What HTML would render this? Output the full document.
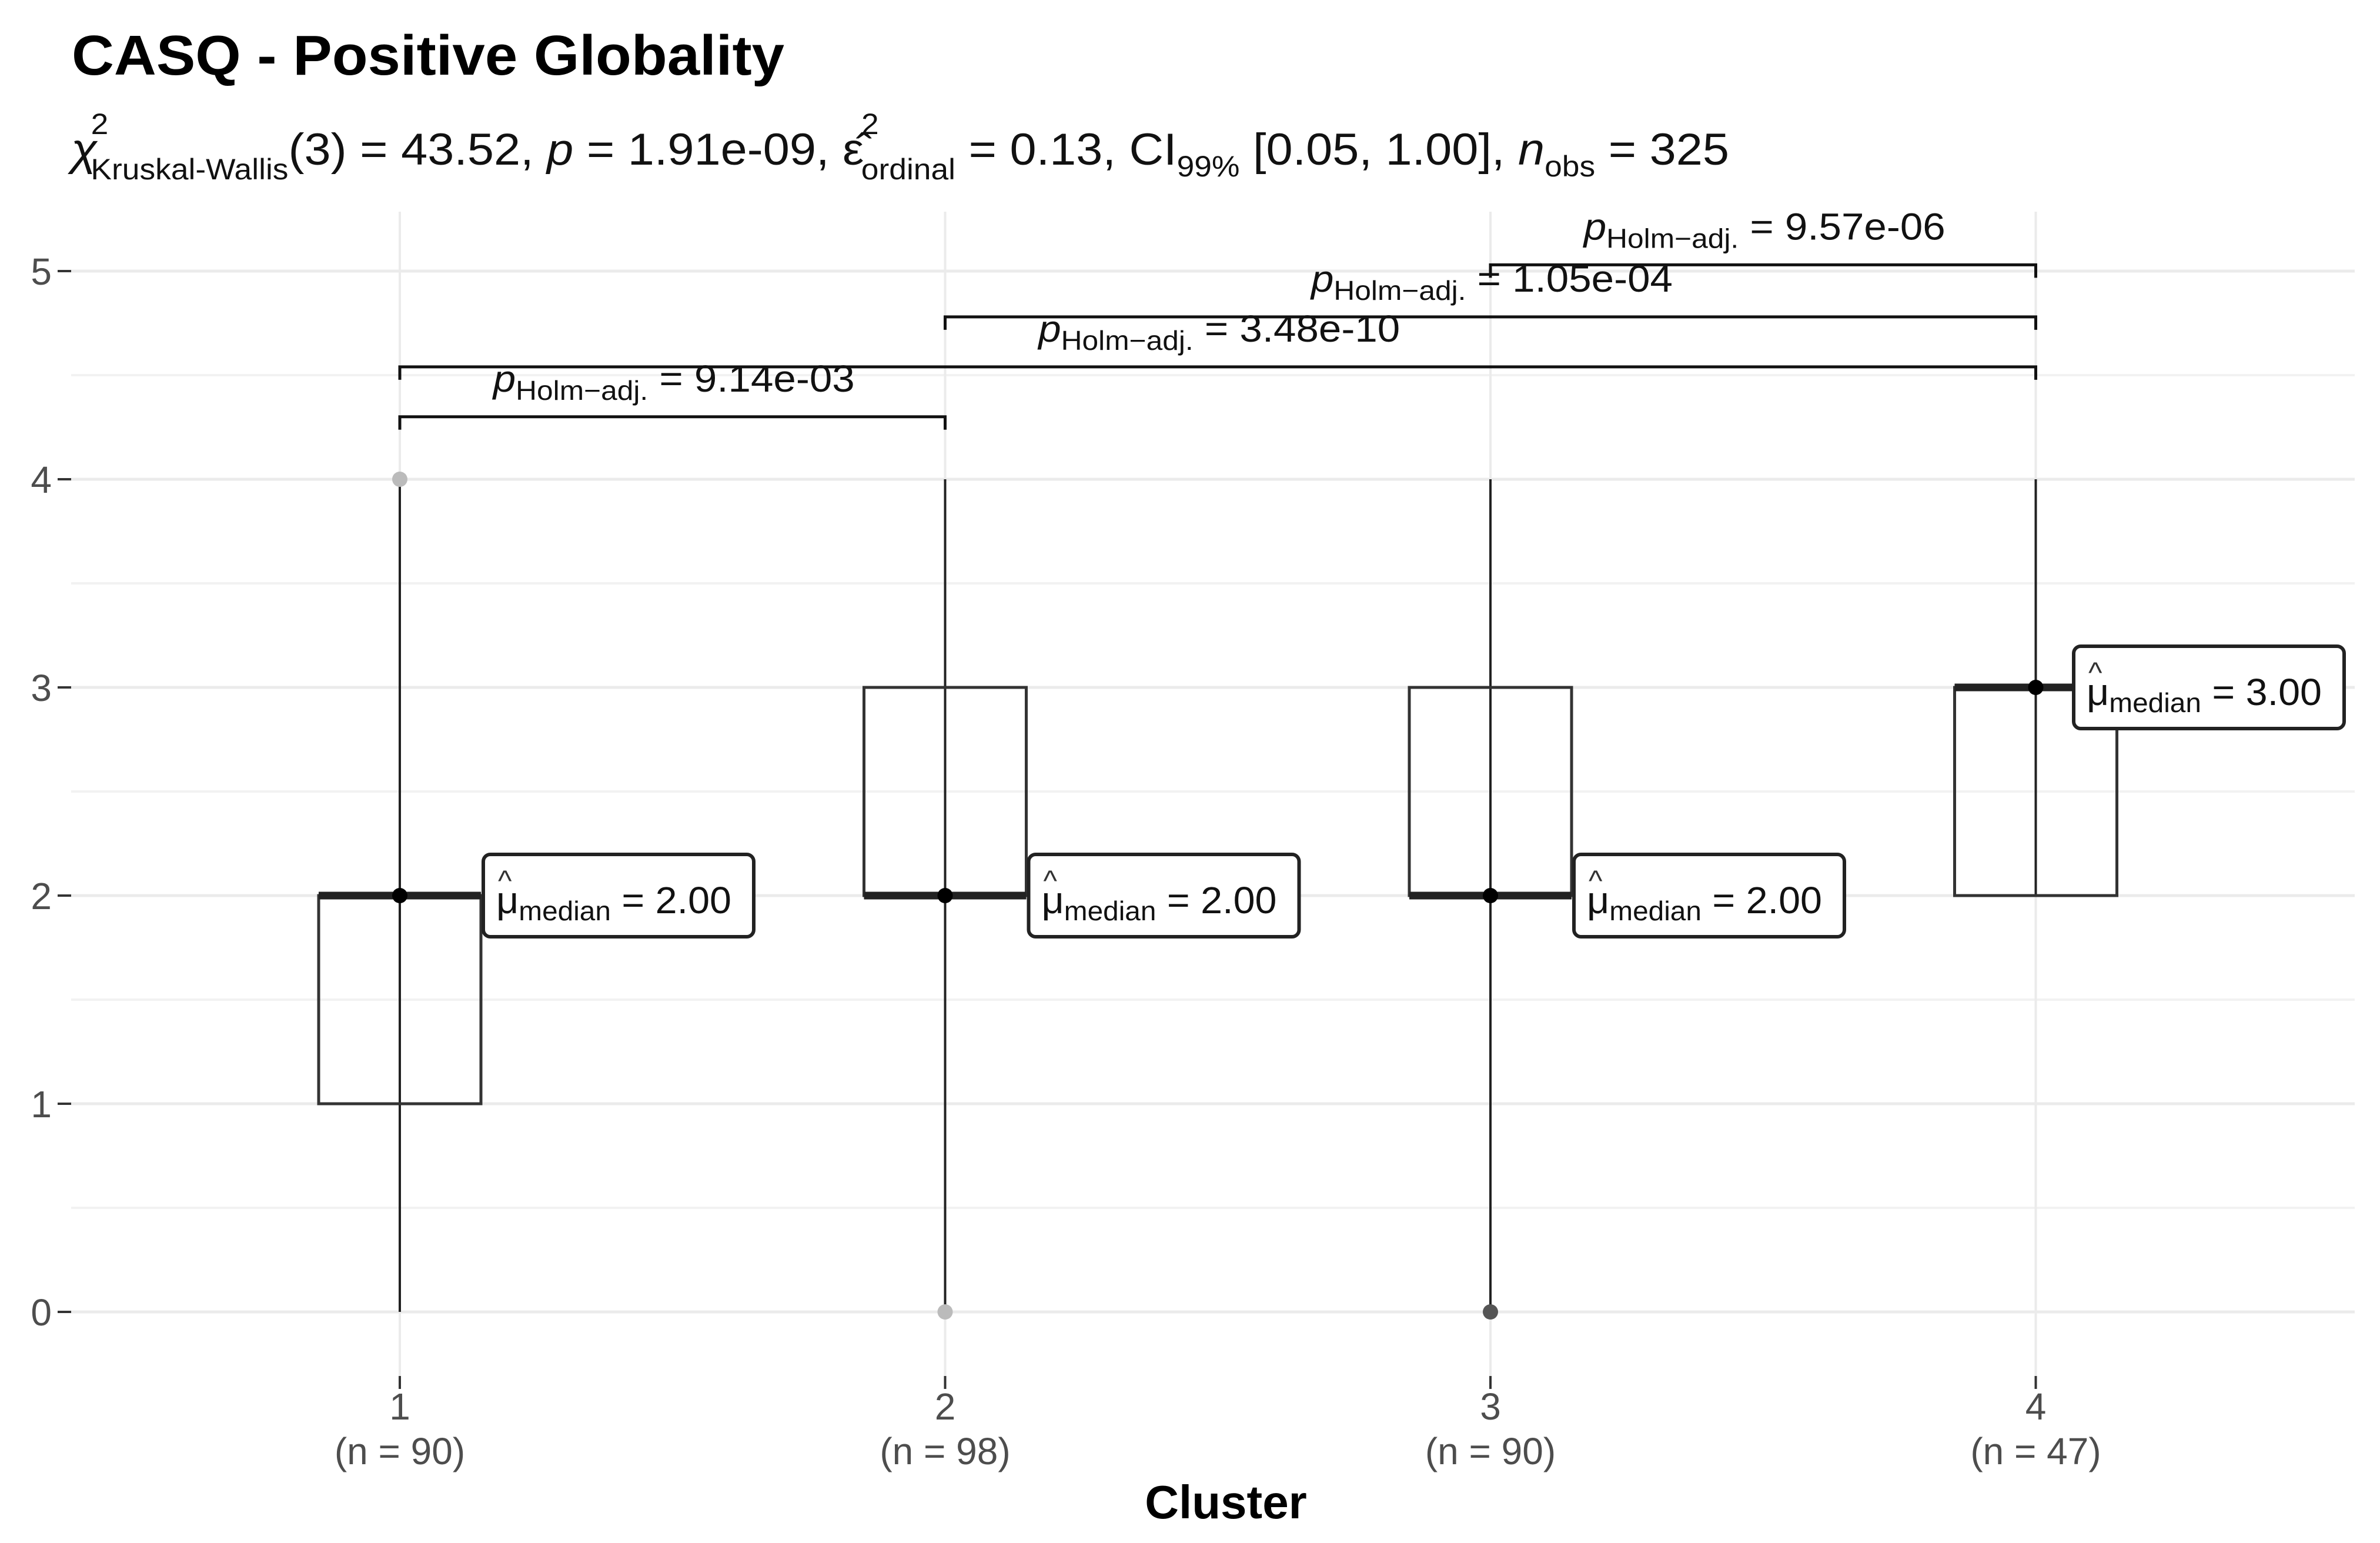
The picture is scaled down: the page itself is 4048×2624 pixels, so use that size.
<!DOCTYPE html>
<html><head><meta charset="utf-8"><style>
html,body{margin:0;padding:0;background:#fff}
svg{display:block;font-family:"Liberation Sans",sans-serif}
</style></head><body>
<svg id="chart" width="4048" height="2624" viewBox="0 0 4048 2624" xmlns="http://www.w3.org/2000/svg">
<text x="122" y="127" font-size="96" font-weight="bold" textLength="1212" lengthAdjust="spacingAndGlyphs">CASQ - Positive Globality</text>
<text x="121" y="280" font-size="76" fill="#111" textLength="2820" lengthAdjust="spacingAndGlyphs"><tspan font-style="italic">χ</tspan><tspan font-size="50" dy="-52" dx="-10">2</tspan><tspan font-size="50" dy="77" dx="-28">Kruskal-Wallis</tspan><tspan dy="-25">(3) = 43.52, </tspan><tspan font-style="italic">p</tspan><tspan> = 1.91e-09, ε̂</tspan><tspan font-size="50" dy="-52" dx="-4">2</tspan><tspan font-size="50" dy="77" dx="-28">ordinal</tspan><tspan dy="-25"> = 0.13, CI</tspan><tspan font-size="50" dy="20">99%</tspan><tspan dy="-20"> [0.05, 1.00], </tspan><tspan font-style="italic">n</tspan><tspan font-size="50" dy="20">obs</tspan><tspan dy="-20"> = 325</tspan></text>
<g id="grid"></g>
<g id="marks"></g>
<g id="labels"></g>
<text x="2085" y="2582" font-size="80" font-weight="bold" text-anchor="middle">Cluster</text>
</svg>
<script>
const categories = ["1","2","3","4"];
const nLabels = ["(n = 90)","(n = 98)","(n = 90)","(n = 47)"];
const q1 = [1,2,2,2];
const q3 = [2,3,3,3];
const medians = [2,2,2,3];
const whiskLow = [0,0,0,2];
const whiskHigh = [4,4,4,4];
const outliers = [[1,4,"#bbb"],[2,0,"#bbb"],[3,0,"#555"]];
const yTicks = [0,1,2,3,4,5];
const pairs = [[1,2],[1,4],[2,4],[3,4]];
const pairLevels = [4.3,4.54,4.78,5.03];
const pValues = ["9.14e-03","3.48e-10","1.05e-04","9.57e-06"];

const NS="http://www.w3.org/2000/svg";
const X=c=>680+(c-1)*927.5;
const Y=v=>2231-v*354;
function mk(tag,attrs,parent,text){const e=document.createElementNS(NS,tag);for(const k in attrs)e.setAttribute(k,attrs[k]);if(text!==undefined)e.textContent=text;parent.appendChild(e);return e;}
const grid=document.getElementById('grid'),marks=document.getElementById('marks'),labels=document.getElementById('labels');

for(let v=0;v<=5;v+=0.5){
  const l=mk('line',{x1:121,x2:4005,y1:Y(v),y2:Y(v),stroke:v%1===0?'#ebebeb':'#f2f2f2','stroke-width':v%1===0?5:4},grid);
  
  
}
categories.forEach((c,i)=>{
  const l=mk('line',{x1:X(i+1),x2:X(i+1),y1:360,y2:2340,stroke:'#ebebeb','stroke-width':4},grid);
  
  
  const tk=mk('line',{x1:X(i+1),x2:X(i+1),y1:2340,y2:2362,stroke:'#333','stroke-width':4},grid);
  
  
  const t=mk('text',{x:X(i+1),y:2414,'font-size':64,fill:'#4d4d4d','text-anchor':'middle'},labels,c);
  
  
  const n=mk('text',{x:X(i+1),y:2490,'font-size':64,fill:'#4d4d4d','text-anchor':'middle'},labels,nLabels[i]);
  
  
});
yTicks.forEach(v=>{
  const tk=mk('line',{x1:98,x2:121,y1:Y(v),y2:Y(v),stroke:'#333','stroke-width':4},grid);
  
  
  const t=mk('text',{x:88,y:Y(v)+23,'font-size':64,fill:'#4d4d4d','text-anchor':'end'},labels,String(v));
  
  
});
categories.forEach((c,i)=>{
  const x=X(i+1),hw=138;
  const w=mk('line',{x1:x,x2:x,y1:Y(whiskLow[i]),y2:Y(whiskHigh[i]),stroke:'#222','stroke-width':4},marks);
  
  
  const b=mk('rect',{x:x-hw,y:Y(q3[i]),width:2*hw,height:Y(q1[i])-Y(q3[i]),fill:'none',stroke:'#333','stroke-width':5},marks);
  
  
  const m=mk('line',{x1:x-hw,x2:x+hw,y1:Y(medians[i]),y2:Y(medians[i]),stroke:'#222','stroke-width':13},marks);
  
  
  const d=mk('circle',{cx:x,cy:Y(medians[i]),r:13,fill:'#000'},marks);
  
  
  const lx=Math.min(x+hw+4,3987-460),ly=Y(medians[i])-70;
  const g=mk('g',{},labels);
  
  
  mk('rect',{x:lx,y:ly,width:460,height:140,rx:12,fill:'#fff',stroke:'#222','stroke-width':6},g);
  mk('text',{x:lx+25,y:ly+62,'font-size':50,fill:'#333'},g,'^');
  const t=mk('text',{x:lx+22,y:ly+100,'font-size':64,fill:'#111',textLength:400,lengthAdjust:'spacingAndGlyphs'},g);
  mk('tspan',{},t,'μ');
  mk('tspan',{'font-size':46,dy:12},t,'median');
  mk('tspan',{dy:-12},t,' = '+medians[i].toFixed(2));
});
outliers.forEach(o=>{
  const p=mk('circle',{cx:X(o[0]),cy:Y(o[1]),r:13,fill:o[2]},marks);
  
  
});
pairs.forEach((pr,k)=>{
  const y=Y(pairLevels[k]),x1=X(pr[0]),x2=X(pr[1]);
  const br=mk('path',{d:`M${x1},${y+22}V${y}H${x2}V${y+22}`,fill:'none',stroke:'#111','stroke-width':5},marks);
  
  
  const t=mk('text',{x:(x1+x2)/2-305,y:y-43,'font-size':64,fill:'#111',textLength:615,lengthAdjust:'spacingAndGlyphs'},labels);
  
  
  mk('tspan',{'font-style':'italic'},t,'p');
  mk('tspan',{'font-size':46,dy:14},t,'Holm−adj.');
  mk('tspan',{dy:-14},t,' = '+pValues[k]);
});
</script>
</body></html>
